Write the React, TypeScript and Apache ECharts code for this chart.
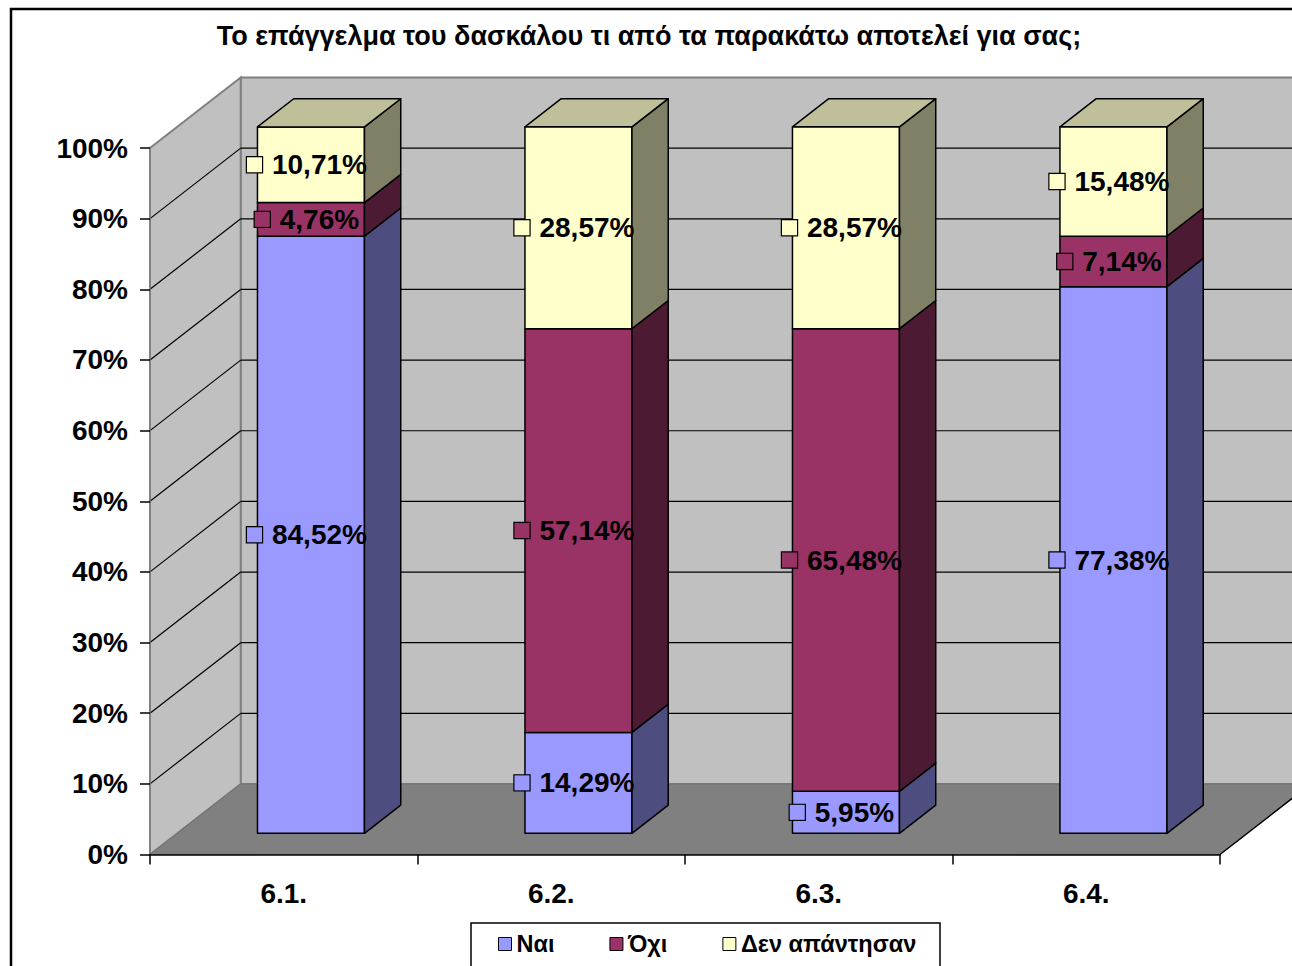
import React, { useEffect, useRef } from 'react';
import * as echarts from 'echarts';

const TITLE = 'Το επάγγελμα του δασκάλου τι από τα παρακάτω αποτελεί για σας;';
const CATEGORIES = ['6.1.', '6.2.', '6.3.', '6.4.'];
const SERIES_NAMES = ['Ναι', 'Όχι', 'Δεν απάντησαν'];
const NAI = [84.52, 14.29, 5.95, 77.38];
const OXI = [4.76, 57.14, 65.48, 7.14];
const DEN = [10.71, 28.57, 28.57, 15.48];
const Y_TICKS = [0, 10, 20, 30, 40, 50, 60, 70, 80, 90, 100];

const FRONT_COLORS = ['#9999ff', '#993366', '#ffffcc'];
const SIDE_COLORS = ['#4d4d80', '#4d1a33', '#808066'];
const TOP_COLORS = ['#bfbfff', '#b85c85', '#bfbf99'];

const FONT = '"Liberation Sans", Arial, sans-serif';
// 3D projection (depth vector in px)
const DX = 90.7;
const DY = -70.5;
const FRONT_DEPTH = 0.3;
const BAR_DEPTH = 0.4;
const BAR_W = 0.4;

const fmt = (v: number) => v.toFixed(2).replace('.', ',') + '%';

export default function App() {
  const ref = useRef<HTMLDivElement>(null);
  useEffect(() => {
    if (!ref.current) return;
    const chart = echarts.init(ref.current, null, { renderer: 'svg' });
    const allSeries = [NAI, OXI, DEN];

    const barGeom = (api: any, i: number, y0: number, y1: number) => {
      const band = api.size([1, 0])[0];
      const c0 = api.coord([i, y0]);
      const c1 = api.coord([i, y1]);
      const w = band * BAR_W;
      const xl = c0[0] - w / 2 + DX * FRONT_DEPTH;
      const xr = xl + w;
      const yb = c0[1] + DY * FRONT_DEPTH;
      const yt = c1[1] + DY * FRONT_DEPTH;
      return { xl, xr, yb, yt };
    };

    const wallSeries = {
      type: 'custom',
      name: '__walls',
      z: 1,
      silent: true,
      data: [[0, 0]],
      encode: { x: 0, y: 1 },
      renderItem: (params: any, api: any) => {
        const band = api.size([1, 0])[0];
        const xL = api.coord([0, 0])[0] - band / 2;
        const xR = api.coord([CATEGORIES.length - 1, 0])[0] + band / 2;
        const y0 = api.coord([0, 0])[1];
        const y100 = api.coord([0, 100])[1];
        const children: any[] = [];
        children.push({
          type: 'polygon',
          shape: { points: [[xL + DX, y0 + DY], [xR + DX, y0 + DY], [xR + DX, y100 + DY], [xL + DX, y100 + DY]] },
          style: { fill: '#c0c0c0', stroke: '#808080', lineWidth: 2 },
        });
        children.push({
          type: 'polygon',
          shape: { points: [[xL, y0], [xL + DX, y0 + DY], [xL + DX, y100 + DY], [xL, y100]] },
          style: { fill: '#c0c0c0', stroke: '#808080', lineWidth: 2 },
        });
        children.push({
          type: 'polygon',
          shape: { points: [[xL, y0], [xR, y0], [xR + DX, y0 + DY], [xL + DX, y0 + DY]] },
          style: { fill: '#808080', stroke: '#707070', lineWidth: 1 },
        });
        children.push({
          type: 'line',
          shape: { x1: xR, y1: y0, x2: xR + DX, y2: y0 + DY },
          style: { stroke: '#000', lineWidth: 1.5 },
        });
        Y_TICKS.forEach((v) => {
          if (v === 0 || v === 100) return;
          const yv = api.coord([0, v])[1];
          children.push({
            type: 'line',
            shape: { x1: xL + DX, y1: yv + DY, x2: xR + DX, y2: yv + DY },
            style: { stroke: '#000', lineWidth: 1.2 },
          });
          children.push({
            type: 'line',
            shape: { x1: xL, y1: yv, x2: xL + DX, y2: yv + DY },
            style: { stroke: '#000', lineWidth: 1.2 },
          });
        });
        return { type: 'group', children };
      },
    };

    const barSeries = SERIES_NAMES.map((name, s) => {
      const data = CATEGORIES.map((_, i) => {
        let base = 0;
        for (let k = 0; k < s; k++) base += allSeries[k][i];
        return [i, base, base + allSeries[s][i], allSeries[s][i]];
      });
      return {
        type: 'custom',
        name,
        z: 5,
        itemStyle: { color: FRONT_COLORS[s] },
        data,
        encode: { x: 0, y: [1, 2] },
        renderItem: (params: any, api: any) => {
          const i = api.value(0);
          const { xl, xr, yb, yt } = barGeom(api, i, api.value(1), api.value(2));
          const bx = DX * BAR_DEPTH;
          const by = DY * BAR_DEPTH;
          const stroke = { stroke: '#000', lineWidth: 1.5, lineJoin: 'round' };
          const children: any[] = [
            {
              type: 'polygon',
              shape: { points: [[xl, yb], [xr, yb], [xr, yt], [xl, yt]] },
              style: { fill: FRONT_COLORS[s], ...stroke },
            },
            {
              type: 'polygon',
              shape: { points: [[xr, yb], [xr + bx, yb + by], [xr + bx, yt + by], [xr, yt]] },
              style: { fill: SIDE_COLORS[s], ...stroke },
            },
          ];
          if (s === SERIES_NAMES.length - 1) {
            children.push({
              type: 'polygon',
              shape: { points: [[xl, yt], [xr, yt], [xr + bx, yt + by], [xl + bx, yt + by]] },
              style: { fill: TOP_COLORS[s], ...stroke },
            });
          }
          return { type: 'group', children };
        },
      };
    });

    const labelData: any[] = [];
    SERIES_NAMES.forEach((_, s) => {
      CATEGORIES.forEach((__, i) => {
        let base = 0;
        for (let k = 0; k < s; k++) base += allSeries[k][i];
        labelData.push([i, base, base + allSeries[s][i], allSeries[s][i], s]);
      });
    });

    const labelSeries = {
      type: 'custom',
      name: '__labels',
      z: 10,
      silent: true,
      data: labelData,
      encode: { x: 0, y: [1, 2] },
      renderItem: (params: any, api: any) => {
        const i = api.value(0);
        const s = api.value(4);
        const v = api.value(3);
        const { xl, xr, yb, yt } = barGeom(api, i, api.value(1), api.value(2));
        return {
          type: 'text',
          x: (xl + xr) / 2 - 4,
          y: (yb + yt) / 2,
          style: {
            text: `{sq|}{gap|}{t|${fmt(v)}}`,
            align: 'center',
            verticalAlign: 'middle',
            rich: {
              sq: {
                width: 15,
                height: 15,
                backgroundColor: FRONT_COLORS[s],
                borderColor: '#000',
                borderWidth: 1.2,
                verticalAlign: 'middle',
              },
              gap: { width: 10, height: 15, verticalAlign: 'middle' },
              t: {
                fontSize: 28,
                fontWeight: 'bold',
                fontFamily: FONT,
                fill: '#000',
                color: '#000',
                verticalAlign: 'middle',
              },
            },
          },
        };
      },
    };

    chart.setOption({
      animation: false,
      backgroundColor: '#ffffff',
      title: {
        text: TITLE,
        left: 644,
        textAlign: 'center',
        top: 17,
        textStyle: { fontSize: 27, fontWeight: 'bold', fontFamily: FONT, color: '#000' },
      },
      legend: {
        data: SERIES_NAMES.map((n) => ({ name: n })),
        left: 498,
        top: 932,
        padding: 0,
        itemGap: 55,
        itemWidth: 13,
        itemHeight: 13,
        icon: 'rect',
        itemStyle: { borderColor: '#000', borderWidth: 1 },
        textStyle: { fontSize: 23.5, fontWeight: 'bold', fontFamily: FONT, color: '#000' },
      },
      grid: { left: 150, top: 148, width: 1070, height: 706.5, containLabel: false },
      xAxis: {
        type: 'category',
        data: CATEGORIES,
        z: 20,
        axisLine: { show: true, lineStyle: { color: '#000', width: 1.5 } },
        axisTick: { show: true, length: 10, lineStyle: { color: '#000', width: 1.5 } },
        axisLabel: { fontSize: 28, fontWeight: 'bold', fontFamily: FONT, color: '#000', margin: 25 },
        splitLine: { show: false },
      },
      yAxis: {
        type: 'value',
        min: 0,
        max: 100,
        interval: 10,
        z: 20,
        axisLine: { show: true, lineStyle: { color: '#808080', width: 1.5 } },
        axisTick: { show: true, length: 10, lineStyle: { color: '#000', width: 1.5 } },
        axisLabel: {
          formatter: '{value}%',
          fontSize: 28,
          fontWeight: 'bold',
          fontFamily: FONT,
          color: '#000',
          margin: 22,
        },
        splitLine: { show: false },
      },
      graphic: [
        {
          type: 'rect',
          shape: { x: 11, y: 9, width: 1400, height: 1100 },
          style: { fill: 'none', stroke: '#000', lineWidth: 2.5 },
          z: 100,
          silent: true,
        },
        {
          type: 'rect',
          shape: { x: 471, y: 923, width: 469, height: 70 },
          style: { fill: 'none', stroke: '#000', lineWidth: 1.5 },
          z: 100,
          silent: true,
        },
      ],
      series: [wallSeries, ...barSeries, labelSeries],
    });
    return () => chart.dispose();
  }, []);
  return <div ref={ref} style={{ position: 'fixed', left: 0, top: 0, width: 1292, height: 966 }} />;
}
